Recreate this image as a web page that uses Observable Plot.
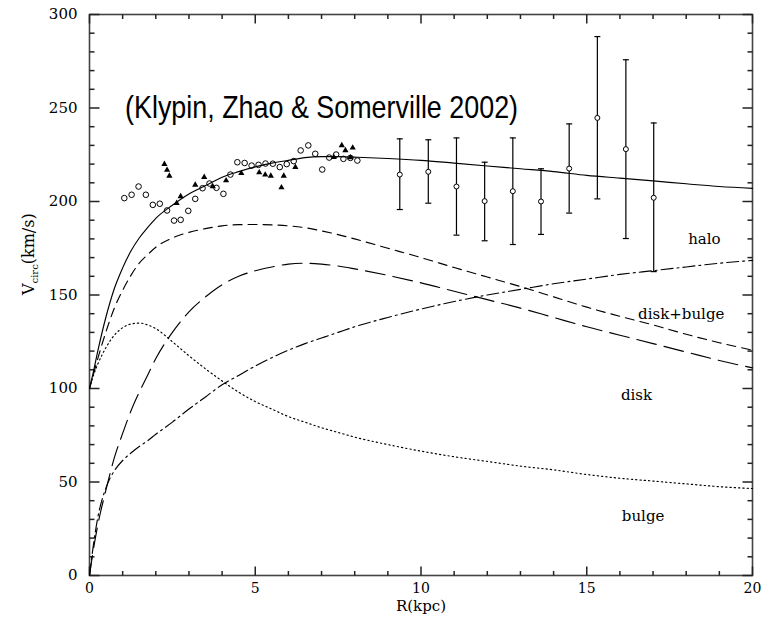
<!DOCTYPE html>
<html>
<head>
<meta charset="utf-8">
<script src="https://cdn.jsdelivr.net/npm/d3@7"></script>
<script src="https://cdn.jsdelivr.net/npm/@observablehq/plot@0.6"></script>
<style>
  body { margin: 0; background: #fff; }
  #chart { width: 764px; height: 620px; }
</style>
</head>
<body>
<div id="chart"></div>
<script>
// ---- Model curves ----
const radius     = [0, 0.1, 0.25, 0.5, 0.75, 1, 1.25, 1.5, 1.75, 2, 2.5, 3, 3.5, 4, 4.5, 5, 5.5, 6, 6.5, 7, 7.5, 8, 9, 10, 11, 12, 13, 14, 15, 16, 17, 18, 19, 20];
const vTotal     = [100, 107.5, 120, 138.5, 153.5, 164.5, 173.5, 180.5, 186, 191, 198, 204, 208.5, 213, 216, 218.5, 220.5, 222, 223.5, 224, 224, 223.7, 223, 222, 220.5, 219, 217.5, 216, 214, 212.5, 211, 209.5, 208, 207];
const vDiskBulge = [100, 106.5, 116, 130.5, 143, 152.5, 160.5, 167, 171.5, 175.5, 180.5, 183.5, 185.5, 187, 187.6, 187.7, 187.5, 187, 186, 184.3, 182.3, 180, 175, 170, 164.7, 159.6, 154.5, 149, 143.5, 138.6, 134, 129, 124.5, 120.5];
const vDisk      = [0, 12, 27, 46, 63, 76, 88, 98, 107, 116, 130, 141, 149, 155.5, 160, 163, 165, 166.5, 167, 166.5, 165.5, 164, 160.5, 156.5, 152, 147.5, 143, 138, 133, 128.5, 124, 119.5, 115, 111];
const vBulge     = [100, 106, 113, 122, 128.5, 132.5, 134.5, 135, 134, 132, 125, 117.5, 110.5, 104, 98, 93, 89, 85, 82, 79, 76.5, 74, 70, 66.5, 63.5, 61, 58.5, 56.5, 54, 52, 50.5, 49, 47.5, 46.5];
const vHalo      = [0, 14, 31, 47, 56, 61.5, 65.5, 69, 72, 75.5, 82, 89, 95.5, 102, 107, 112, 116.5, 120.5, 124, 127, 130, 133, 138, 142.5, 146.5, 150, 153, 156, 158.5, 161, 163, 165, 167, 168.5];

// ---- Observations: open circles ----
const circR = [1.05, 1.27, 1.48, 1.70, 1.91, 2.12, 2.34, 2.55, 2.75, 2.98, 3.19, 3.41, 3.62, 3.83, 4.04, 4.25, 4.46, 4.68, 4.89, 5.10, 5.31, 5.53, 5.74, 5.95, 6.16, 6.37, 6.60, 6.81, 7.02, 7.23, 7.44, 7.66, 7.87, 8.08];
const circV = [201.8, 203.6, 208, 203.6, 198.2, 198.8, 195.2, 189.8, 190.2, 195, 201.4, 207.1, 209.6, 207.3, 204.1, 214.4, 221, 220.6, 219.2, 219.6, 220.3, 220.2, 218.4, 220, 221.6, 227.3, 230, 225.5, 217.1, 223.5, 225.1, 222.8, 223.3, 221.9];

// ---- Observations: filled triangles ----
const triR = [2.26, 2.34, 2.41, 2.63, 2.75, 3.19, 3.46, 3.72, 4.12, 4.58, 5.12, 5.30, 5.47, 5.79, 5.86, 6.21, 7.37, 7.61, 7.72, 7.87, 7.94];
const triV = [220, 216.8, 213.7, 199.1, 202.7, 208.9, 213, 208, 211.2, 215.1, 215.5, 214.3, 213.7, 207.5, 213.7, 218.4, 223.7, 230, 227.3, 223.5, 228.7];

// ---- Observations with error bars ----
const errR  = [9.36, 10.22, 11.07, 11.92, 12.77, 13.62, 14.47, 15.32, 16.18, 17.02];
const errV  = [214.4, 215.9, 208, 200.2, 205.5, 200, 217.6, 244.7, 228, 202];
const errLo = [195.7, 199.1, 182, 179, 177, 182.4, 193.8, 201.4, 180.2, 162.5];
const errHi = [233.5, 233, 234, 221, 234, 217.5, 241.5, 288.2, 275.8, 242];

// ---- Curve labels ----
const curveNames  = ["halo", "disk+bulge", "disk", "bulge"];
const curveLabelR = [18.55, 17.85, 16.5, 16.7];
const curveLabelV = [180, 139.5, 96.5, 31.5];

// ---- Title and axis text ----
const titleText = "(Klypin, Zhao & Somerville 2002)";
const titleR = 7.0, titleV = 250;
const xLabel = "R(kpc)";
const yLabelMain = "V", yLabelSub = "circ", yLabelUnit = "(km/s)";

// ---- Ticks ----
const xMajorTicks = [0, 5, 10, 15, 20];
const xMinorTicks = [1, 2, 3, 4, 6, 7, 8, 9, 11, 12, 13, 14, 16, 17, 18, 19];
const yMajorTicks = [0, 50, 100, 150, 200, 250, 300];
const yMinorTicks = [10, 20, 30, 40, 60, 70, 80, 90, 110, 120, 130, 140, 160, 170, 180, 190, 210, 220, 230, 240, 260, 270, 280, 290];

// build tables
const model = radius.map((r, i) => ({r, total: vTotal[i], db: vDiskBulge[i], disk: vDisk[i], bulge: vBulge[i], halo: vHalo[i]}));
const circles = circR.map((r, i) => ({r, v: circV[i]}));
const tris = triR.map((r, i) => ({r, v: triV[i]}));
const errs = errR.map((r, i) => ({r, v: errV[i], lo: errLo[i], hi: errHi[i]}));
const labels = curveNames.map((t, i) => ({t, r: curveLabelR[i], v: curveLabelV[i]}));

const W = 764, H = 620, ML = 89, MR = 12, MT = 14, MB = 45;
const xDomain = [0, 20], yDomain = [0, 300];
const xPerPx = (xDomain[1] - xDomain[0]) / (W - ML - MR);
const yPerPx = (yDomain[1] - yDomain[0]) / (H - MT - MB);

// inward tick segments (pixel lengths converted to data units) on all four sides
const tickSegs = [];
const addX = (data, len) => data.forEach(t => {
  tickSegs.push({x1: t, x2: t, y1: yDomain[0], y2: yDomain[0] + len * yPerPx});
  tickSegs.push({x1: t, x2: t, y1: yDomain[1], y2: yDomain[1] - len * yPerPx});
});
const addY = (data, len) => data.forEach(t => {
  tickSegs.push({y1: t, y2: t, x1: xDomain[0], x2: xDomain[0] + len * xPerPx});
  tickSegs.push({y1: t, y2: t, x1: xDomain[1], x2: xDomain[1] - len * xPerPx});
});
addX(xMajorTicks, 9); addX(xMinorTicks, 4.5);
addY(yMajorTicks, 10); addY(yMinorTicks, 5);

const capSymbol = {
  draw(context, size) {
    const w = Math.sqrt(size / Math.PI);
    context.moveTo(-w, 0);
    context.lineTo(w, 0);
  }
};

const axisColor = "#444";
const line = (key, dash) => Plot.line(model, {
  x: "r", y: key, curve: "monotone-x", stroke: "black", strokeWidth: 1.15,
  strokeDasharray: dash
});

const chart = Plot.plot({
  width: W,
  height: H,
  marginLeft: ML,
  marginRight: MR,
  marginTop: MT,
  marginBottom: MB,
  x: {domain: xDomain},
  y: {domain: yDomain},
  style: {fontFamily: "DejaVu Serif", fontSize: "14px", color: "black", background: "white"},
  marks: [
    Plot.frame({stroke: axisColor, strokeWidth: 1.6, fill: "none"}),
    // tick labels
    Plot.axisX(xMajorTicks, {anchor: "bottom", tickSize: 0, tickPadding: 8, fontSize: 14, label: null}),
    Plot.axisY(yMajorTicks, {anchor: "left", tickSize: 0, tickPadding: 12, fontSize: 15, label: null}),
    // inward ticks on all four sides
    Plot.link(tickSegs, {x1: "x1", y1: "y1", x2: "x2", y2: "y2", stroke: "#222", strokeWidth: 1.5}),

    // model curves
    line("total", null),
    line("db", "9,6"),
    line("disk", "20,8"),
    line("bulge", "1.3,3"),
    line("halo", "12,4,2,4"),

    // data
    Plot.ruleX(errs, {x: "r", y1: "lo", y2: "hi", stroke: "black", strokeWidth: 1.2}),
    Plot.dot(errs, {x: "r", y: "lo", symbol: capSymbol, r: 3, stroke: "black", strokeWidth: 1.2}),
    Plot.dot(errs, {x: "r", y: "hi", symbol: capSymbol, r: 3, stroke: "black", strokeWidth: 1.2}),
    Plot.dot(errs, {x: "r", y: "v", r: 2.5, stroke: "black", fill: "white", strokeWidth: 1}),
    Plot.dot(circles, {x: "r", y: "v", r: 2.8, stroke: "black", fill: "none", strokeWidth: 1}),
    Plot.dot(tris, {x: "r", y: "v", symbol: "triangle", r: 2.3, fill: "black", stroke: "none"}),

    // labels
    Plot.text(labels, {x: "r", y: "v", text: "t", fontSize: 15, fontFamily: "DejaVu Serif"}),
    Plot.text([{t: titleText, r: titleR, v: titleV}], {x: "r", y: "v", text: "t", fontSize: 32,
      fontFamily: "Liberation Sans"}),
    Plot.text([{t: xLabel}], {text: "t", frameAnchor: "bottom", dy: 35, fontSize: 15,
      fontFamily: "DejaVu Serif"}),
    Plot.text([{t: yLabelMain}], {text: "t", frameAnchor: "left", dx: -61, rotate: -90, fontSize: 16,
      fontFamily: "DejaVu Serif"})
  ]
});

// fine-tune text details (condensed title, subscript in y label)
const svg = d3.select(chart);
svg.selectAll("text").each(function () {
  const node = d3.select(this);
  const content = this.textContent;
  if (content === titleText) {
    node.attr("textLength", 393).attr("lengthAdjust", "spacingAndGlyphs");
  } else if (content === yLabelMain && node.attr("transform") && node.attr("transform").includes("rotate")) {
    node.text(null);
    node.append("tspan").text(yLabelMain);
    node.append("tspan").attr("font-size", 10).attr("dy", 4).text(yLabelSub);
    node.append("tspan").attr("dy", -4).text(yLabelUnit);
  }
});

document.getElementById("chart").appendChild(chart);
</script>
</body>
</html>
